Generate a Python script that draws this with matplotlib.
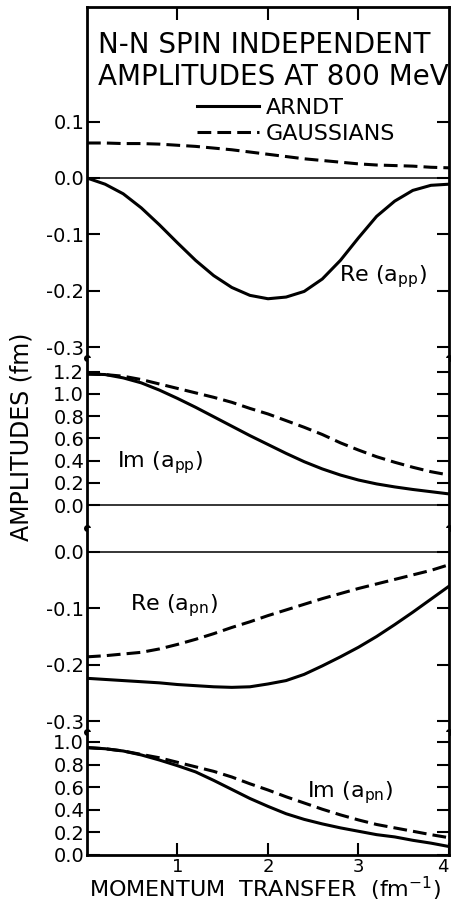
import numpy as np
import matplotlib
matplotlib.use('Agg')
import matplotlib.pyplot as plt

plt.rcParams['font.family'] = ['DejaVu Sans']
plt.rcParams['mathtext.fontset'] = 'dejavusans'

# momentum transfer (fm^-1)
q = [0.0, 0.2, 0.4, 0.6, 0.8, 1.0, 1.2, 1.4, 1.6, 1.8, 2.0,
     2.2, 2.4, 2.6, 2.8, 3.0, 3.2, 3.4, 3.6, 3.8, 4.0]

# Re(a_pp)
re_pp_arndt = [0.0, -0.011, -0.028, -0.053, -0.083, -0.115, -0.146, -0.173, -0.194, -0.208, -0.214,
               -0.211, -0.201, -0.179, -0.146, -0.106, -0.068, -0.041, -0.022, -0.013, -0.011]
re_pp_gauss = [0.062, 0.062, 0.061, 0.061, 0.060, 0.058, 0.056, 0.053, 0.050, 0.046, 0.042,
               0.038, 0.034, 0.031, 0.028, 0.025, 0.023, 0.022, 0.021, 0.019, 0.018]
# Im(a_pp)
im_pp_arndt = [1.18, 1.175, 1.145, 1.10, 1.035, 0.96, 0.88, 0.795, 0.71, 0.625, 0.545,
               0.465, 0.39, 0.325, 0.27, 0.225, 0.19, 0.163, 0.14, 0.12, 0.10]
im_pp_gauss = [1.18, 1.175, 1.16, 1.13, 1.09, 1.05, 1.01, 0.97, 0.925, 0.87, 0.82,
               0.76, 0.70, 0.635, 0.56, 0.495, 0.435, 0.385, 0.34, 0.30, 0.27]
# Re(a_pn)
re_pn_arndt = [-0.224, -0.226, -0.228, -0.230, -0.232, -0.235, -0.237, -0.239, -0.240, -0.239, -0.234,
               -0.228, -0.217, -0.202, -0.186, -0.169, -0.150, -0.129, -0.107, -0.084, -0.061]
re_pn_gauss = [-0.186, -0.184, -0.181, -0.178, -0.172, -0.164, -0.155, -0.145, -0.134, -0.124, -0.113,
               -0.103, -0.093, -0.083, -0.074, -0.065, -0.057, -0.049, -0.041, -0.033, -0.023]
# Im(a_pn)
im_pn_arndt = [0.95, 0.94, 0.92, 0.885, 0.84, 0.79, 0.735, 0.66, 0.58, 0.50, 0.43,
               0.365, 0.315, 0.275, 0.24, 0.21, 0.18, 0.16, 0.13, 0.105, 0.075]
im_pn_gauss = [0.95, 0.94, 0.92, 0.89, 0.86, 0.82, 0.78, 0.74, 0.69, 0.63, 0.575,
               0.515, 0.46, 0.405, 0.355, 0.31, 0.27, 0.24, 0.21, 0.18, 0.153]

# tick values / labels per panel
yt1 = [0.1, 0.0, -0.1, -0.2, -0.3]
yt2 = [0.0, 0.2, 0.4, 0.6, 0.8, 1.0, 1.2]
yt3 = [0.0, -0.1, -0.2, -0.3]
yt4 = [0.0, 0.2, 0.4, 0.6, 0.8, 1.0]
xt = [1, 2, 3, 4]
xt_labels = ['1', '2', '3', '4']

H = 907.0
W = 452.0
fig = plt.figure(figsize=(4.52, 9.07), dpi=100)

left = 87 / W
width = 449 / W - left
# panel edges in pixels from the top
edges = [7, 358, 528, 732, 855]
ylims = [(-0.319, 0.303), (-0.207, 1.324), (-0.319, 0.042), (0.0, 1.088)]
yticks = [yt1, yt2, yt3, yt4]

axes = []
for i in range(4):
    top, bot = edges[i], edges[i + 1]
    ax = fig.add_axes([left, 1 - bot / H, width, (bot - top) / H])
    ax.set_xlim(0, 4)
    ax.set_ylim(*ylims[i])
    ax.set_yticks(yticks[i])
    ax.set_yticklabels(['%.1f' % v for v in yticks[i]])
    ax.tick_params(axis='y', direction='in', length=9, width=1.5, labelsize=14,
                   right=True, pad=2)
    for s in ax.spines.values():
        s.set_linewidth(2)
    if i > 0:
        ax.spines['top'].set_visible(False)
    if i < 3:
        ax.spines['bottom'].set_visible(False)
    axes.append(ax)

ax1, ax2, ax3, ax4 = axes

# x ticks: top of panel 1, bottom of panel 4
ax1.set_xticks([1, 2, 3])
ax1.tick_params(axis='x', direction='in', length=9, width=1.5, top=True, bottom=False,
                labeltop=False, labelbottom=False)
for ax in (ax2, ax3):
    ax.set_xticks([])
ax4.set_xticks(xt)
ax4.set_xticklabels(xt_labels)
ax4.tick_params(axis='x', direction='in', length=9, width=1.5, labelsize=13, pad=2)
ax4.get_xticklabels()[-1].set_horizontalalignment('right')

lw = 2.2
dash = (4.5, 2.0)

for ax in (ax1, ax2, ax3):
    ax.axhline(0, color='black', lw=1.1)

ax1.plot(q, re_pp_arndt, color='black', lw=lw, label='ARNDT')
ax1.plot(q, re_pp_gauss, color='black', lw=lw, dashes=dash, label='GAUSSIANS')
ax2.plot(q, im_pp_arndt, color='black', lw=lw)
ax2.plot(q, im_pp_gauss, color='black', lw=lw, dashes=dash)
ax3.plot(q, re_pn_arndt, color='black', lw=lw)
ax3.plot(q, re_pn_gauss, color='black', lw=lw, dashes=dash)
ax4.plot(q, im_pn_arndt, color='black', lw=lw)
ax4.plot(q, im_pn_gauss, color='black', lw=lw, dashes=dash)

# break marks on the spines
for ax in (ax1, ax2, ax3):
    ax.plot([0, 1], [0, 0], 'o', color='black', ms=4, transform=ax.transAxes, clip_on=False)

# curve labels
ax1.text(2.79, -0.184, r'Re (a$_{\mathrm{pp}}$)', fontsize=16, va='baseline')
ax2.text(0.33, 0.34, r'Im (a$_{\mathrm{pp}}$)', fontsize=16, va='baseline')
ax3.text(0.48, -0.104, r'Re (a$_{\mathrm{pn}}$)', fontsize=16, va='baseline')
ax4.text(2.43, 0.51, r'Im (a$_{\mathrm{pn}}$)', fontsize=16, va='baseline')

# title
fig.text(98 / W, 1 - 53 / H, 'N-N SPIN INDEPENDENT', fontsize=20, va='baseline')
fig.text(98 / W, 1 - 85 / H, 'AMPLITUDES AT 800 MeV', fontsize=20, va='baseline')

# legend
ax1.legend(loc='upper left', bbox_to_anchor=(197 / W, 1 - 98 / H), bbox_transform=fig.transFigure,
           frameon=False, fontsize=16, handlelength=2.8, handletextpad=0.3,
           labelspacing=0.25, borderpad=0, borderaxespad=0)

fig.text(22 / W, 1 - 437 / H, 'AMPLITUDES (fm)', fontsize=17, rotation=90,
         ha='center', va='center')
fig.text(265 / W, 1 - 897 / H, r'MOMENTUM  TRANSFER  (fm$^{-1}$)', fontsize=16,
         ha='center', va='baseline')

fig.savefig('out.png', dpi=100)
